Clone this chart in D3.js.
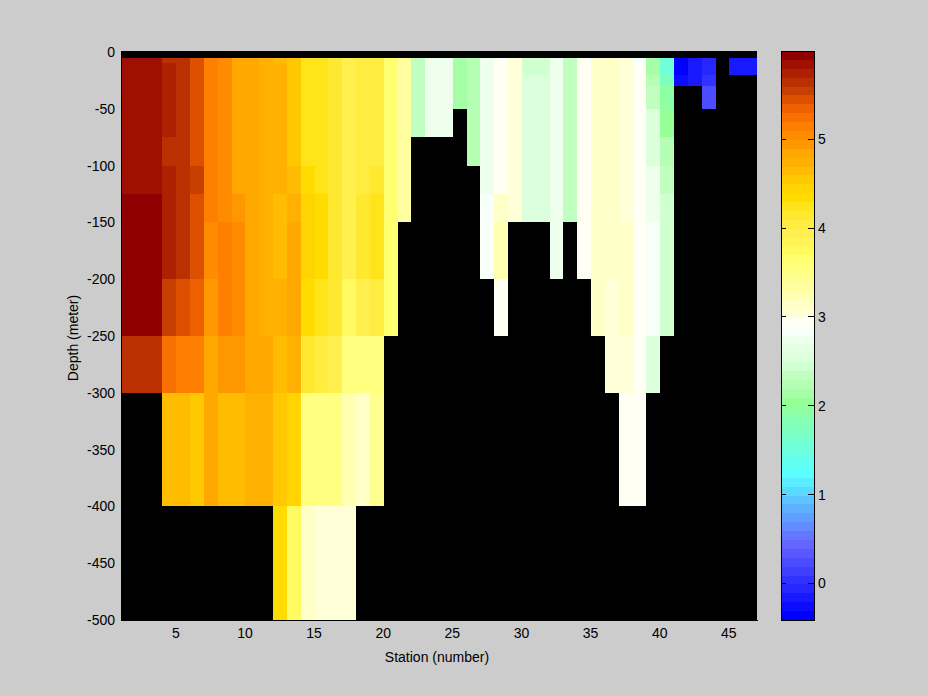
<!DOCTYPE html>
<html><head><meta charset="utf-8">
<script src="https://d3js.org/d3.v7.min.js"></script>
<style>
html,body{margin:0;padding:0;background:#ccc;}
svg{display:block;}
text{font-family:"Liberation Sans",Arial,sans-serif;font-size:14px;fill:#000;}
</style></head><body>
<svg id="c" width="928" height="696"></svg>
<script>
// Depth cell edges (metres) for the colored rows
const depthEdges = [-5,-10,-20,-30,-50,-75,-100,-125,-150,-200,-250,-300,-400,-500];
const stationTicks = [5,10,15,20,25,30,35,40,45];
const depthTicks = [0,-50,-100,-150,-200,-250,-300,-350,-400,-450,-500];
const colorTicks = [0,1,2,3,4,5];
const _ = null;
// Temperature per station (one line per station), one value per depth row, null = no data
const temperature = [
/* 1*/[5.84,5.84,5.84,5.84,5.84,5.84,5.84,5.94,5.94,5.94,5.64,_,_],
/* 2*/[5.84,5.84,5.84,5.84,5.84,5.84,5.84,5.94,5.94,5.94,5.64,_,_],
/* 3*/[5.84,5.84,5.84,5.84,5.84,5.84,5.84,5.94,5.94,5.94,5.64,_,_],
/* 4*/[5.64,5.74,5.74,5.74,5.74,5.64,5.74,5.74,5.74,5.54,5.24,4.64,_],
/* 5*/[5.64,5.64,5.64,5.64,5.64,5.64,5.64,5.64,5.64,5.44,5.14,4.64,_],
/* 6*/[5.44,5.44,5.44,5.44,5.44,5.44,5.54,5.44,5.44,5.34,5.14,4.54,_],
/* 7*/[5.14,5.14,5.14,5.14,5.14,5.14,5.14,5.14,5.04,4.94,4.84,4.84,_],
/* 8*/[5.04,5.04,5.04,5.04,5.04,5.04,5.04,5.04,5.14,5.14,4.94,4.64,_],
/* 9*/[4.84,4.84,4.84,4.84,4.84,4.84,4.84,4.94,5.04,5.04,4.94,4.64,_],
/*10*/[4.84,4.84,4.84,4.84,4.84,4.84,4.84,4.84,4.84,4.84,4.84,4.74,_],
/*11*/[4.74,4.74,4.74,4.74,4.74,4.74,4.74,4.74,4.74,4.74,4.84,4.74,_],
/*12*/[4.64,4.74,4.74,4.74,4.74,4.74,4.74,4.64,4.64,4.74,4.64,4.54,4.34],
/*13*/[4.54,4.54,4.54,4.54,4.54,4.54,4.64,4.74,4.84,4.84,4.74,4.44,3.74],
/*14*/[4.24,4.24,4.24,4.24,4.24,4.24,4.34,4.44,4.44,4.34,4.14,3.54,3.14],
/*15*/[4.24,4.24,4.24,4.24,4.24,4.24,4.24,4.34,4.34,4.24,4.04,3.54,3.04],
/*16*/[4.14,4.14,4.14,4.14,4.14,4.14,4.14,4.14,4.14,4.14,3.94,3.54,3.04],
/*17*/[3.94,3.94,3.94,3.94,3.94,3.94,3.94,3.94,3.94,3.74,3.54,3.24,3.04],
/*18*/[4.04,4.04,4.04,4.04,4.04,4.04,4.04,4.14,4.14,3.94,3.54,3.14,_],
/*19*/[4.04,4.04,4.04,4.04,4.04,4.04,4.14,4.24,4.24,4.04,3.54,3.44,_],
/*20*/[3.64,3.64,3.64,3.64,3.64,3.64,3.64,3.64,3.64,3.64,_,_,_],
/*21*/[3.34,3.34,3.34,3.34,3.34,3.34,3.34,3.34,_,_,_,_,_],
/*22*/[2.34,2.34,2.34,2.34,2.34,_,_,_,_,_,_,_,_],
/*23*/[2.74,2.74,2.74,2.74,2.74,_,_,_,_,_,_,_,_],
/*24*/[2.74,2.74,2.74,2.74,2.74,_,_,_,_,_,_,_,_],
/*25*/[2.14,2.14,2.14,2.14,_,_,_,_,_,_,_,_,_],
/*26*/[2.24,2.24,2.24,2.24,2.24,2.24,_,_,_,_,_,_,_],
/*27*/[2.74,2.74,2.74,2.74,2.74,2.74,2.74,2.84,2.84,_,_,_,_],
/*28*/[2.94,2.94,2.94,2.94,2.94,2.94,2.94,3.14,3.24,2.94,_,_,_],
/*29*/[3.04,3.04,3.04,3.04,3.04,3.04,3.04,3.04,_,_,_,_,_],
/*30*/[2.44,2.44,2.54,2.54,2.54,2.54,2.54,2.54,_,_,_,_,_],
/*31*/[2.44,2.44,2.54,2.54,2.54,2.54,2.54,2.54,_,_,_,_,_],
/*32*/[2.74,2.74,2.74,2.74,2.74,2.74,2.74,2.74,2.74,_,_,_,_],
/*33*/[2.34,2.34,2.34,2.34,2.34,2.34,2.34,2.34,_,_,_,_,_],
/*34*/[2.94,2.94,2.94,2.94,2.94,2.94,2.94,2.94,2.94,_,_,_,_],
/*35*/[3.14,3.14,3.14,3.14,3.14,3.14,3.14,3.14,3.14,3.14,_,_,_],
/*36*/[3.14,3.14,3.14,3.14,3.14,3.14,3.14,3.14,3.14,3.04,3.04,_,_],
/*37*/[3.04,3.04,3.04,3.04,3.04,3.04,3.04,3.04,3.14,3.14,3.04,2.94,_],
/*38*/[2.84,2.94,2.94,2.94,2.94,2.94,2.94,2.94,2.94,2.94,2.94,2.94,_],
/*39*/[2.14,2.14,2.24,2.34,2.54,2.54,2.74,2.74,2.84,2.84,2.54,_,_],
/*40*/[1.54,1.54,1.74,1.94,2.04,2.24,2.34,2.44,2.44,2.44,_,_,_],
/*41*/[-0.36,-0.36,-0.26,_,_,_,_,_,_,_,_,_,_],
/*42*/[-0.16,-0.16,-0.16,_,_,_,_,_,_,_,_,_,_],
/*43*/[-0.06,-0.06,0.04,0.24,_,_,_,_,_,_,_,_,_],
/*44*/[_,_,_,_,_,_,_,_,_,_,_,_,_],
/*45*/[-0.16,-0.16,_,_,_,_,_,_,_,_,_,_,_],
/*46*/[-0.16,-0.16,_,_,_,_,_,_,_,_,_,_,_]
];
// 64-level colormap, bottom to top
const colormap = ["#0000ff","#0c0cff","#1919ff","#2626ff","#3232ff","#3f3fff","#4b4bff","#5858ff",
"#6464ff","#6478ff","#628cff","#609eff","#5eb1ff","#5cc5ff","#5ad8ff","#5aecff",
"#5affff","#61fff2","#69ffe5","#70ffd8","#78ffcb","#7fffbe","#87ffb1","#8effa4",
"#96ff96","#a6ffa6","#b4ffb4","#c0ffc0","#d0ffd0","#dcffdc","#e4ffe4","#eeffee",
"#f8fff8","#fffff4","#ffffd8","#ffffc8","#ffffb0","#ffffa0","#ffff90","#ffff80",
"#ffff70","#fffa60","#fff558","#fff050","#ffec40","#ffe830","#ffe41c","#ffdc00",
"#ffd400","#ffc800","#ffbc00","#ffb000","#ffa800","#ff9800","#ff8c00","#ff8000",
"#f87000","#ef6000","#dd5000","#c84000","#bb3000","#af2000","#a01000","#8f0000"];

const W=928,H=696;
const plot={left:121,right:757,top:51,bottom:620};
const bar={left:781,right:814,top:51,bottom:620};
const svg=d3.select("#c");
const x=d3.scaleLinear().domain([1,47]).range([plot.left,plot.right]);
const y=d3.scaleLinear().domain([0,-500]).range([52,plot.bottom]);
const color=d3.scaleQuantize().domain([-0.412,5.995]).range(colormap);
const cy=d3.scaleLinear().domain([-0.412,5.995]).range([bar.bottom,bar.top]);

svg.append("rect").attr("x",plot.left).attr("y",plot.top)
  .attr("width",plot.right-plot.left).attr("height",plot.bottom-plot.top).attr("fill","#000");

const cells=[];
temperature.forEach((col,i)=>col.forEach((v,j)=>{ if(v!==null) cells.push({s:i+1,j,v}); }));
svg.append("g").attr("shape-rendering","crispEdges").selectAll("rect").data(cells).join("rect")
  .attr("x",d=>Math.round(x(d.s)))
  .attr("width",d=>Math.round(x(d.s+1))-Math.round(x(d.s)))
  .attr("y",d=>Math.round(y(depthEdges[d.j])))
  .attr("height",d=>Math.round(y(depthEdges[d.j+1]))-Math.round(y(depthEdges[d.j])))
  .attr("fill",d=>color(d.v));

// Axes
const gx=svg.append("g").attr("transform",`translate(0,${plot.bottom})`)
  .call(d3.axisBottom(x).tickValues(stationTicks).tickSize(0).tickPadding(8).tickFormat(d3.format("d")));
const gy=svg.append("g").attr("transform",`translate(${plot.left},0)`)
  .call(d3.axisLeft(y).tickValues(depthTicks).tickSize(0).tickPadding(6).tickFormat(d=>String(d)));
[gx,gy].forEach(g=>{g.attr("font-family",null).attr("font-size",null);
  g.select(".domain").attr("stroke","#000").attr("shape-rendering","crispEdges");});
gx.selectAll("text").attr("dx",-1);
svg.append("text").attr("x",437).attr("y",662).attr("text-anchor","middle").text("Station (number)");
svg.append("text").attr("transform","translate(78,338) rotate(-90)").attr("text-anchor","middle").text("Depth (meter)");

// Colorbar
svg.append("g").attr("shape-rendering","crispEdges").selectAll("rect").data(colormap).join("rect")
  .attr("x",bar.left).attr("width",bar.right-bar.left)
  .attr("y",d=>Math.round(cy(color.invertExtent(d)[1])))
  .attr("height",d=>Math.round(cy(color.invertExtent(d)[0]))-Math.round(cy(color.invertExtent(d)[1])))
  .attr("fill",d=>d);
svg.append("rect").attr("x",bar.left).attr("y",bar.top)
  .attr("width",bar.right-bar.left).attr("height",bar.bottom-bar.top)
  .attr("fill","none").attr("stroke","#000").attr("shape-rendering","crispEdges");
const gc=svg.append("g").attr("transform",`translate(${bar.right},0)`)
  .call(d3.axisRight(cy).tickValues(colorTicks).tickSize(0).tickPadding(4).tickFormat(d3.format("d")));
gc.attr("font-family",null).attr("font-size",null);
gc.select(".domain").remove();
const tk=svg.append("g").attr("stroke","#000").attr("shape-rendering","crispEdges");
colorTicks.forEach(t=>{
  tk.append("line").attr("x1",bar.left).attr("x2",bar.left+5).attr("y1",cy(t)).attr("y2",cy(t));
  tk.append("line").attr("x1",bar.right-6).attr("x2",bar.right).attr("y1",cy(t)).attr("y2",cy(t));
});
</script></body></html>
